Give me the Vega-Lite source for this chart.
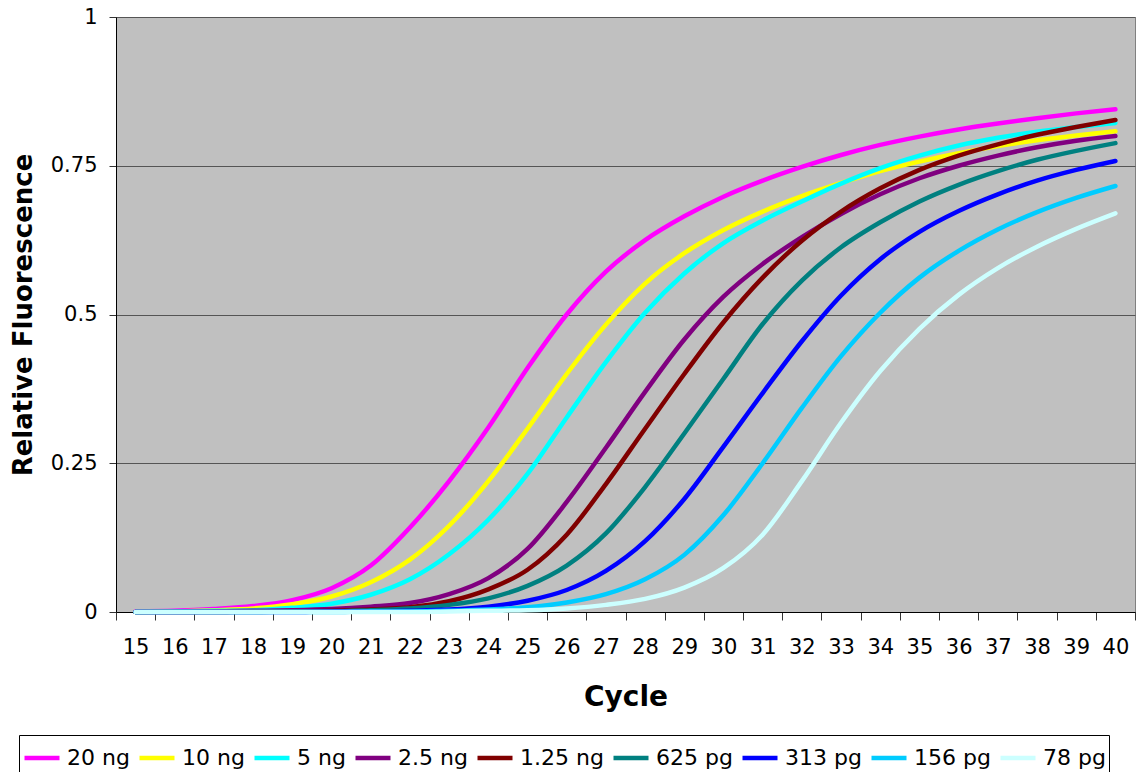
{
  "$schema": "https://vega.github.io/schema/vega-lite/v6.json",
  "width": 1019,
  "height": 595,
  "autosize": {"type": "none"},
  "padding": {"left": 116, "top": 17, "right": 1, "bottom": 160},
  "background": "white",
  "config": {
    "font": "DejaVu Sans",
    "view": {"fill": "#C0C0C0", "stroke": "#808080", "strokeWidth": 1}
  },
  "datasets": {
    "d": [
      {"c":15,"s":"20 ng","v":0.001},{"c":16,"s":"20 ng","v":0.002},{"c":17,"s":"20 ng","v":0.005},{"c":18,"s":"20 ng","v":0.010},{"c":19,"s":"20 ng","v":0.020},{"c":20,"s":"20 ng","v":0.040},{"c":21,"s":"20 ng","v":0.078},{"c":22,"s":"20 ng","v":0.142},{"c":23,"s":"20 ng","v":0.220},{"c":24,"s":"20 ng","v":0.310},{"c":25,"s":"20 ng","v":0.410},{"c":26,"s":"20 ng","v":0.500},{"c":27,"s":"20 ng","v":0.572},{"c":28,"s":"20 ng","v":0.625},{"c":29,"s":"20 ng","v":0.665},{"c":30,"s":"20 ng","v":0.698},{"c":31,"s":"20 ng","v":0.725},{"c":32,"s":"20 ng","v":0.748},{"c":33,"s":"20 ng","v":0.768},{"c":34,"s":"20 ng","v":0.785},{"c":35,"s":"20 ng","v":0.799},{"c":36,"s":"20 ng","v":0.811},{"c":37,"s":"20 ng","v":0.821},{"c":38,"s":"20 ng","v":0.830},{"c":39,"s":"20 ng","v":0.838},{"c":40,"s":"20 ng","v":0.845},
      {"c":15,"s":"10 ng","v":0.000},{"c":16,"s":"10 ng","v":0.001},{"c":17,"s":"10 ng","v":0.003},{"c":18,"s":"10 ng","v":0.006},{"c":19,"s":"10 ng","v":0.013},{"c":20,"s":"10 ng","v":0.026},{"c":21,"s":"10 ng","v":0.050},{"c":22,"s":"10 ng","v":0.088},{"c":23,"s":"10 ng","v":0.145},{"c":24,"s":"10 ng","v":0.220},{"c":25,"s":"10 ng","v":0.308},{"c":26,"s":"10 ng","v":0.400},{"c":27,"s":"10 ng","v":0.483},{"c":28,"s":"10 ng","v":0.552},{"c":29,"s":"10 ng","v":0.603},{"c":30,"s":"10 ng","v":0.642},{"c":31,"s":"10 ng","v":0.673},{"c":32,"s":"10 ng","v":0.699},{"c":33,"s":"10 ng","v":0.721},{"c":34,"s":"10 ng","v":0.741},{"c":35,"s":"10 ng","v":0.757},{"c":36,"s":"10 ng","v":0.771},{"c":37,"s":"10 ng","v":0.783},{"c":38,"s":"10 ng","v":0.793},{"c":39,"s":"10 ng","v":0.801},{"c":40,"s":"10 ng","v":0.808},
      {"c":15,"s":"5 ng","v":0.000},{"c":16,"s":"5 ng","v":0.001},{"c":17,"s":"5 ng","v":0.002},{"c":18,"s":"5 ng","v":0.003},{"c":19,"s":"5 ng","v":0.007},{"c":20,"s":"5 ng","v":0.014},{"c":21,"s":"5 ng","v":0.029},{"c":22,"s":"5 ng","v":0.055},{"c":23,"s":"5 ng","v":0.097},{"c":24,"s":"5 ng","v":0.155},{"c":25,"s":"5 ng","v":0.232},{"c":26,"s":"5 ng","v":0.327},{"c":27,"s":"5 ng","v":0.420},{"c":28,"s":"5 ng","v":0.503},{"c":29,"s":"5 ng","v":0.569},{"c":30,"s":"5 ng","v":0.620},{"c":31,"s":"5 ng","v":0.658},{"c":32,"s":"5 ng","v":0.690},{"c":33,"s":"5 ng","v":0.720},{"c":34,"s":"5 ng","v":0.746},{"c":35,"s":"5 ng","v":0.767},{"c":36,"s":"5 ng","v":0.784},{"c":37,"s":"5 ng","v":0.797},{"c":38,"s":"5 ng","v":0.807},{"c":39,"s":"5 ng","v":0.815},{"c":40,"s":"5 ng","v":0.822},
      {"c":15,"s":"2.5 ng","v":0.000},{"c":16,"s":"2.5 ng","v":0.000},{"c":17,"s":"2.5 ng","v":0.001},{"c":18,"s":"2.5 ng","v":0.002},{"c":19,"s":"2.5 ng","v":0.003},{"c":20,"s":"2.5 ng","v":0.005},{"c":21,"s":"2.5 ng","v":0.009},{"c":22,"s":"2.5 ng","v":0.015},{"c":23,"s":"2.5 ng","v":0.030},{"c":24,"s":"2.5 ng","v":0.057},{"c":25,"s":"2.5 ng","v":0.106},{"c":26,"s":"2.5 ng","v":0.185},{"c":27,"s":"2.5 ng","v":0.276},{"c":28,"s":"2.5 ng","v":0.370},{"c":29,"s":"2.5 ng","v":0.458},{"c":30,"s":"2.5 ng","v":0.530},{"c":31,"s":"2.5 ng","v":0.585},{"c":32,"s":"2.5 ng","v":0.630},{"c":33,"s":"2.5 ng","v":0.669},{"c":34,"s":"2.5 ng","v":0.702},{"c":35,"s":"2.5 ng","v":0.729},{"c":36,"s":"2.5 ng","v":0.750},{"c":37,"s":"2.5 ng","v":0.767},{"c":38,"s":"2.5 ng","v":0.781},{"c":39,"s":"2.5 ng","v":0.792},{"c":40,"s":"2.5 ng","v":0.800},
      {"c":15,"s":"1.25 ng","v":0.000},{"c":16,"s":"1.25 ng","v":0.000},{"c":17,"s":"1.25 ng","v":0.000},{"c":18,"s":"1.25 ng","v":0.001},{"c":19,"s":"1.25 ng","v":0.001},{"c":20,"s":"1.25 ng","v":0.002},{"c":21,"s":"1.25 ng","v":0.004},{"c":22,"s":"1.25 ng","v":0.008},{"c":23,"s":"1.25 ng","v":0.018},{"c":24,"s":"1.25 ng","v":0.038},{"c":25,"s":"1.25 ng","v":0.071},{"c":26,"s":"1.25 ng","v":0.130},{"c":27,"s":"1.25 ng","v":0.215},{"c":28,"s":"1.25 ng","v":0.308},{"c":29,"s":"1.25 ng","v":0.400},{"c":30,"s":"1.25 ng","v":0.487},{"c":31,"s":"1.25 ng","v":0.562},{"c":32,"s":"1.25 ng","v":0.624},{"c":33,"s":"1.25 ng","v":0.673},{"c":34,"s":"1.25 ng","v":0.712},{"c":35,"s":"1.25 ng","v":0.743},{"c":36,"s":"1.25 ng","v":0.767},{"c":37,"s":"1.25 ng","v":0.786},{"c":38,"s":"1.25 ng","v":0.802},{"c":39,"s":"1.25 ng","v":0.815},{"c":40,"s":"1.25 ng","v":0.827},
      {"c":15,"s":"625 pg","v":0.000},{"c":16,"s":"625 pg","v":0.000},{"c":17,"s":"625 pg","v":0.000},{"c":18,"s":"625 pg","v":0.000},{"c":19,"s":"625 pg","v":0.001},{"c":20,"s":"625 pg","v":0.001},{"c":21,"s":"625 pg","v":0.003},{"c":22,"s":"625 pg","v":0.006},{"c":23,"s":"625 pg","v":0.012},{"c":24,"s":"625 pg","v":0.023},{"c":25,"s":"625 pg","v":0.044},{"c":26,"s":"625 pg","v":0.078},{"c":27,"s":"625 pg","v":0.132},{"c":28,"s":"625 pg","v":0.210},{"c":29,"s":"625 pg","v":0.300},{"c":30,"s":"625 pg","v":0.392},{"c":31,"s":"625 pg","v":0.484},{"c":32,"s":"625 pg","v":0.557},{"c":33,"s":"625 pg","v":0.613},{"c":34,"s":"625 pg","v":0.655},{"c":35,"s":"625 pg","v":0.690},{"c":36,"s":"625 pg","v":0.718},{"c":37,"s":"625 pg","v":0.741},{"c":38,"s":"625 pg","v":0.760},{"c":39,"s":"625 pg","v":0.775},{"c":40,"s":"625 pg","v":0.788},
      {"c":15,"s":"313 pg","v":0.000},{"c":16,"s":"313 pg","v":0.000},{"c":17,"s":"313 pg","v":0.000},{"c":18,"s":"313 pg","v":0.000},{"c":19,"s":"313 pg","v":0.000},{"c":20,"s":"313 pg","v":0.001},{"c":21,"s":"313 pg","v":0.001},{"c":22,"s":"313 pg","v":0.002},{"c":23,"s":"313 pg","v":0.004},{"c":24,"s":"313 pg","v":0.009},{"c":25,"s":"313 pg","v":0.019},{"c":26,"s":"313 pg","v":0.037},{"c":27,"s":"313 pg","v":0.069},{"c":28,"s":"313 pg","v":0.119},{"c":29,"s":"313 pg","v":0.190},{"c":30,"s":"313 pg","v":0.278},{"c":31,"s":"313 pg","v":0.368},{"c":32,"s":"313 pg","v":0.455},{"c":33,"s":"313 pg","v":0.532},{"c":34,"s":"313 pg","v":0.593},{"c":35,"s":"313 pg","v":0.639},{"c":36,"s":"313 pg","v":0.674},{"c":37,"s":"313 pg","v":0.702},{"c":38,"s":"313 pg","v":0.725},{"c":39,"s":"313 pg","v":0.743},{"c":40,"s":"313 pg","v":0.758},
      {"c":15,"s":"156 pg","v":0.000},{"c":16,"s":"156 pg","v":0.000},{"c":17,"s":"156 pg","v":0.000},{"c":18,"s":"156 pg","v":0.000},{"c":19,"s":"156 pg","v":0.000},{"c":20,"s":"156 pg","v":0.000},{"c":21,"s":"156 pg","v":0.001},{"c":22,"s":"156 pg","v":0.001},{"c":23,"s":"156 pg","v":0.002},{"c":24,"s":"156 pg","v":0.004},{"c":25,"s":"156 pg","v":0.008},{"c":26,"s":"156 pg","v":0.016},{"c":27,"s":"156 pg","v":0.030},{"c":28,"s":"156 pg","v":0.055},{"c":29,"s":"156 pg","v":0.096},{"c":30,"s":"156 pg","v":0.163},{"c":31,"s":"156 pg","v":0.250},{"c":32,"s":"156 pg","v":0.343},{"c":33,"s":"156 pg","v":0.430},{"c":34,"s":"156 pg","v":0.503},{"c":35,"s":"156 pg","v":0.562},{"c":36,"s":"156 pg","v":0.607},{"c":37,"s":"156 pg","v":0.643},{"c":38,"s":"156 pg","v":0.672},{"c":39,"s":"156 pg","v":0.696},{"c":40,"s":"156 pg","v":0.716},
      {"c":15,"s":"78 pg","v":0.000},{"c":16,"s":"78 pg","v":0.000},{"c":17,"s":"78 pg","v":0.000},{"c":18,"s":"78 pg","v":0.000},{"c":19,"s":"78 pg","v":0.000},{"c":20,"s":"78 pg","v":0.000},{"c":21,"s":"78 pg","v":0.000},{"c":22,"s":"78 pg","v":0.000},{"c":23,"s":"78 pg","v":0.001},{"c":24,"s":"78 pg","v":0.002},{"c":25,"s":"78 pg","v":0.003},{"c":26,"s":"78 pg","v":0.006},{"c":27,"s":"78 pg","v":0.012},{"c":28,"s":"78 pg","v":0.022},{"c":29,"s":"78 pg","v":0.041},{"c":30,"s":"78 pg","v":0.074},{"c":31,"s":"78 pg","v":0.130},{"c":32,"s":"78 pg","v":0.220},{"c":33,"s":"78 pg","v":0.318},{"c":34,"s":"78 pg","v":0.405},{"c":35,"s":"78 pg","v":0.476},{"c":36,"s":"78 pg","v":0.533},{"c":37,"s":"78 pg","v":0.578},{"c":38,"s":"78 pg","v":0.614},{"c":39,"s":"78 pg","v":0.644},{"c":40,"s":"78 pg","v":0.670}
    ]
  },
  "data": {"name": "d"},
  "mark": {"type": "line", "interpolate": "monotone", "strokeWidth": 4.5, "strokeCap": "round", "strokeJoin": "round"},
  "encoding": {
    "x": {
      "field": "c", "type": "ordinal",
      "scale": {"type": "band", "paddingInner": 0, "paddingOuter": 0},
      "axis": {
        "title": "Cycle", "tickBand": "extent", "labelAngle": 0, "tickSize": 8,
        "labelPadding": 16, "labelFontSize": 21, "labelColor": "black",
        "titleFontSize": 28, "titleFontWeight": "bold", "titleColor": "black", "titlePadding": 26,
        "domainColor": "black", "tickColor": "#333333", "grid": false
      }
    },
    "y": {
      "field": "v", "type": "quantitative",
      "scale": {"domain": [0, 1], "nice": false},
      "axis": {
        "title": "Relative Fluorescence", "values": [0, 0.25, 0.5, 0.75, 1], "format": ".2~f",
        "tickSize": 7, "labelPadding": 12, "labelFontSize": 21, "labelColor": "black",
        "titleFontSize": 26, "titleFontWeight": "bold", "titleColor": "black", "titlePadding": 14,
        "grid": true, "gridColor": "#555555", "gridWidth": 1,
        "domainColor": "black", "tickColor": "#333333"
      }
    },
    "color": {
      "field": "s", "type": "nominal",
      "scale": {
        "domain": ["20 ng", "10 ng", "5 ng", "2.5 ng", "1.25 ng", "625 pg", "313 pg", "156 pg", "78 pg"],
        "range": ["#FF00FF", "#FFFF00", "#00FFFF", "#800080", "#800000", "#008080", "#0000FF", "#00CCFF", "#CCFFFF"]
      },
      "legend": {
        "title": null, "orient": "none", "legendX": -97, "legendY": 718,
        "direction": "horizontal", "columns": 9,
        "symbolType": "stroke", "symbolSize": 1225, "symbolStrokeWidth": 4.5,
        "labelFontSize": 22, "labelColor": "black", "labelOffset": 5, "columnPadding": 0,
        "strokeColor": "black", "fillColor": "white", "padding": 3
      }
    }
  }
}
